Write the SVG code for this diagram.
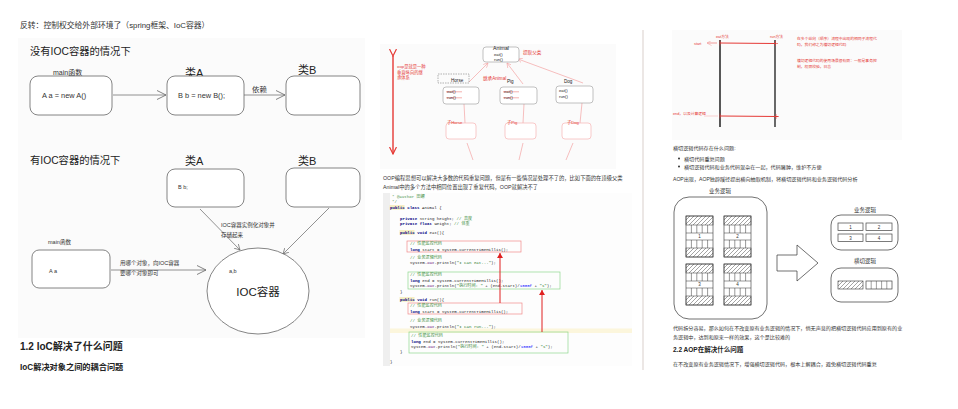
<svg xmlns="http://www.w3.org/2000/svg" width="958" height="409" viewBox="0 0 958 409">
<style>
text{font-family:"Liberation Sans","Noto Sans CJK SC",sans-serif;fill:#333}
.h1{font-size:10.3px;fill:#222}
.lbl{font-size:7.4px}
.cls{font-size:11px;fill:#222}
.sm{font-size:5.5px}
.box{fill:#fff;stroke:#666;stroke-width:0.8}
.ln{stroke:#777;stroke-width:0.8;fill:none}
.red{fill:#e53935}
.pk{stroke:#f4a3a3;stroke-width:0.7;fill:none}
.pkb{fill:#fff;stroke:#f6b5b5;stroke-width:0.7}
.gb{fill:#fff;stroke:#999;stroke-width:0.6}
.t5{font-size:5px;fill:#222}
.code{font-family:"Liberation Mono","Noto Sans CJK SC",monospace;font-size:4.1px;fill:#222}
.kw{fill:#000080;font-weight:bold}
.cm{fill:#3f8f3f}
.st{fill:#2a7a2a}
.p{font-size:5.3px;fill:#333}
.rt{font-size:3.8px;fill:#e53935}
.bx{fill:#fff;stroke:#444;stroke-width:0.7}
</style>
<defs>
<marker id="ah" markerUnits="userSpaceOnUse" markerWidth="10" markerHeight="10" refX="9" refY="5" orient="auto"><path d="M0,0.5 L9,5 L0,9.5" fill="none" stroke="#666" stroke-width="0.8"/></marker>
<marker id="ahs" markerUnits="userSpaceOnUse" markerWidth="6" markerHeight="6" refX="5.5" refY="3" orient="auto"><path d="M0,0 L5.5,3 L0,6" fill="none" stroke="#666" stroke-width="0.7"/></marker>
<marker id="ahp" markerUnits="userSpaceOnUse" markerWidth="5" markerHeight="5" refX="4.5" refY="2.5" orient="auto"><path d="M0,0 L4.5,2.5 L0,5" fill="none" stroke="#f4a3a3" stroke-width="0.6"/></marker>
<marker id="ahr" markerUnits="userSpaceOnUse" markerWidth="8" markerHeight="8" refX="7" refY="4" orient="auto"><path d="M0,0.5 L7,4 L0,7.5" fill="none" stroke="#e53935" stroke-width="1.2"/></marker>
<marker id="ahrs" markerUnits="userSpaceOnUse" markerWidth="6" markerHeight="6" refX="5" refY="3" orient="auto"><path d="M0,0 L5,3 L0,6 Z" fill="#e02020"/></marker>
<pattern id="hatch" patternUnits="userSpaceOnUse" width="4" height="4"><path d="M-1,1 L1,-1 M0,4 L4,0 M3,5 L5,3" stroke="#333" stroke-width="0.45"/></pattern>
<symbol id="blk" overflow="visible">
<rect x="0" y="0" width="27" height="41" fill="#fff" stroke="#333" stroke-width="0.6"/>
<rect x="0" y="0" width="27" height="9" fill="url(#hatch)" stroke="#333" stroke-width="0.5"/>
<rect x="0" y="32" width="27" height="9" fill="url(#hatch)" stroke="#333" stroke-width="0.5"/>
<path d="M0,17 H27 M0,24 H27 M5.4,9 V17 M10.8,9 V17 M16.2,9 V17 M21.6,9 V17 M5.4,24 V32 M10.8,24 V32 M16.2,24 V32 M21.6,24 V32" stroke="#333" stroke-width="0.5"/>
</symbol>
</defs>
<rect width="958" height="409" fill="#fff"/>

<!-- LEFT PAGE -->
<text x="20" y="28" style="font-size:7.8px">反转：控制权交给外部环境了（spring框架、IoC容器）</text>
<rect x="18" y="38" width="347" height="300" fill="#fbfbfb"/>
<text x="30" y="55" class="h1">没有IOC容器的情况下</text>
<text x="30" y="164" class="h1">有IOC容器的情况下</text>

<g id="connectors">
<line x1="113" y1="95" x2="166" y2="95" class="ln" marker-end="url(#ah)"/>
<line x1="244" y1="95" x2="285" y2="95" class="ln" marker-end="url(#ah)"/>
<line x1="200" y1="209" x2="240" y2="250" class="ln" marker-end="url(#ahs)"/>
<line x1="329" y1="208" x2="283" y2="254" class="ln" marker-end="url(#ahs)"/>
<line x1="111" y1="270" x2="206" y2="270" class="ln" marker-end="url(#ah)"/>
<text x="252" y="92" class="lbl">依赖</text>
<text x="221" y="227" class="sm">IOC容器实例化对象并</text>
<text x="221" y="237" class="sm">存储起来</text>
<text x="120" y="265" class="sm">用哪个对象，向IOC容器</text>
<text x="120" y="275" class="sm">要哪个对象即可</text>
</g>

<g id="main1">
<text x="53" y="75" style="font-size:7px">main函数</text>
<rect x="30" y="76" width="82" height="39" rx="8" class="box"/>
<text x="42" y="98" class="lbl">A  a = new A()</text>
</g>
<g id="classA1">
<text x="185" y="77" class="cls">类A</text>
<rect x="167" y="76" width="77" height="39" rx="8" class="box"/>
<text x="178" y="98" class="lbl">B b = new B();</text>
</g>
<g id="classB1">
<text x="298" y="74" class="cls">类B</text>
<rect x="286" y="76" width="74" height="39" rx="8" class="box"/>
</g>
<g id="classA2">
<text x="185" y="165" class="cls">类A</text>
<rect x="167" y="169" width="77" height="38" rx="8" class="box"/>
<text x="178" y="189" class="sm">B  b;</text>
</g>
<g id="classB2">
<text x="298" y="165" class="cls">类B</text>
<rect x="286" y="168" width="74" height="39" rx="8" class="box"/>
</g>
<g id="main2">
<text x="48" y="244" class="sm">main函数</text>
<rect x="32" y="250" width="78" height="38" rx="7" class="box"/>
<text x="49" y="273" class="sm">A a</text>
</g>
<g id="ioc">
<ellipse cx="258" cy="291" rx="51" ry="43" class="box"/>
<text x="229" y="273" class="sm">a,b</text>
<text x="258" y="296" class="cls" text-anchor="middle" style="font-size:11.5px">IOC容器</text>
</g>

<text x="20" y="350" style="font-size:10px;font-weight:bold;fill:#222">1.2 IoC解决了什么问题</text>
<text x="20" y="370" style="font-size:8.2px;font-weight:bold;fill:#222">IoC解决对象之间的耦合问题</text>

<!-- MIDDLE PAGE -->
<rect x="380" y="44" width="236" height="125" fill="#fbfbfb"/>
<line x1="393" y1="56" x2="393" y2="154" stroke="#e53935" stroke-width="1.4" marker-start="url(#ahr)" marker-end="url(#ahr)"/>
<text x="397" y="68" class="rt" style="font-size:4.3px">oop是就是一种</text>
<text x="397" y="73.5" class="rt" style="font-size:4.3px">垂直纵向的继</text>
<text x="397" y="79" class="rt" style="font-size:4.3px">承体系</text>

<g id="animal-links">
<line x1="469" y1="82" x2="488" y2="63" class="pk" marker-end="url(#ahp)"/>
<line x1="523" y1="84" x2="507" y2="63" class="pk" marker-end="url(#ahp)"/>
<line x1="583" y1="83" x2="518" y2="59" class="pk" marker-end="url(#ahp)"/>
<line x1="464" y1="104" x2="465" y2="123" class="pk"/>
<line x1="524" y1="104" x2="523" y2="123" class="pk"/>
<line x1="582" y1="103" x2="580" y2="123" class="pk"/>
<line x1="467" y1="143" x2="473" y2="160" class="pk"/>
<line x1="523" y1="143" x2="519" y2="160" class="pk"/>
<line x1="573" y1="143" x2="566" y2="160" class="pk"/>
<text x="523" y="54" class="rt" style="font-size:4.6px">提取父类</text>
<text x="483" y="80" class="rt" style="font-size:4.6px">继承Animal</text>
</g>
<g id="animal">
<rect x="483" y="47" width="36" height="15" rx="3" class="gb"/>
<text x="501" y="50" class="t5" text-anchor="middle" style="font-size:5.2px">Animal</text>
<text x="494" y="55.5" class="t5" style="font-size:4.2px">eat()</text>
<text x="494" y="60.5" class="t5" style="font-size:4.2px">run()</text>
</g>
<g id="horse">
<rect x="438" y="74" width="31" height="9" fill="none" stroke="#666" stroke-width="0.5" stroke-dasharray="1.5,1"/>
<text x="451" y="82" class="t5" style="font-size:4.6px">Horse</text>
<rect x="443" y="87" width="36" height="17" rx="3" class="gb"/>
<text x="447" y="93" class="t5" style="font-size:4.2px">eat()</text>
<text x="447" y="99" class="t5" style="font-size:4.2px">run()</text>
<path d="M446,91.8 H462 M446,97.8 H462" stroke="#e53935" stroke-width="0.4"/>
</g>
<g id="pig">
<text x="507" y="83" class="t5" style="font-size:4.6px">Pig</text>
<rect x="500" y="87" width="37" height="17" rx="3" class="gb"/>
<text x="504" y="93" class="t5" style="font-size:4.2px">eat()</text>
<text x="504" y="99" class="t5" style="font-size:4.2px">run()</text>
<path d="M503,91.8 H519 M503,97.8 H519" stroke="#e53935" stroke-width="0.4"/>
</g>
<g id="dog">
<text x="564" y="83" class="t5" style="font-size:4.6px">Dog</text>
<rect x="556" y="86" width="37" height="17" rx="3" class="gb"/>
<text x="559" y="92" class="t5" style="font-size:4.2px">eat()</text>
<text x="559" y="98" class="t5" style="font-size:4.2px">run()</text>
</g>
<g id="sub-horse"><rect x="446" y="123" width="30" height="16" rx="3" class="pkb"/><text x="447" y="124" class="rt" style="font-size:4.2px">子Horse</text></g>
<g id="sub-pig"><rect x="505" y="123" width="31" height="16" rx="3" class="pkb"/><text x="507" y="124" class="rt" style="font-size:4.2px">子Pig</text></g>
<g id="sub-dog"><rect x="562" y="123" width="29" height="16" rx="3" class="pkb"/><text x="567" y="124" class="rt" style="font-size:4.2px">子Dog</text></g>

<text x="383" y="180" class="p">OOP编程思想可以解决大多数的代码重复问题，但是有一些情况是处理不了的，比如下面的在顶级父类</text>
<text x="383" y="189" class="p">Animal中的多个方法中相同位置出现了重复代码，OOP就解决不了</text>

<g id="code">
<rect x="383" y="193" width="249" height="173" fill="#fdfdfd"/>
<rect x="383" y="193" width="7" height="173" fill="#efefef"/>
<rect x="390" y="328.5" width="242" height="4.5" fill="#fcf6dc"/>
<rect x="389.5" y="205" width="15" height="4.8" fill="#f6efc4"/>
<rect x="399.5" y="230" width="15" height="4.8" fill="#f6efc4"/>
<rect x="399.5" y="297" width="15" height="4.8" fill="#f6efc4"/>
<text x="392" y="198" class="code cm"> * @author 田螺</text>
<text x="392" y="203" class="code cm"> */</text>
<text x="390" y="209" class="code"><tspan class="kw">public class</tspan> Animal {</text>
<text x="400" y="219.5" class="code"><tspan class="kw">private</tspan> String height; <tspan class="cm">// 高度</tspan></text>
<text x="400" y="224.5" class="code"><tspan class="kw">private float</tspan> weight;  <tspan class="cm">// 体重</tspan></text>
<text x="400" y="234" class="code"><tspan class="kw">public void</tspan> eat(){</text>
<rect x="407" y="241" width="114" height="11" fill="none" stroke="#f08a8a" stroke-width="0.7"/>
<text x="410" y="245" class="code cm">// 性能监控代码</text>
<text x="410" y="250.5" class="code"><tspan class="kw">long</tspan> start = System.currentTimeMillis();</text>
<text x="410" y="258.5" class="code cm">// 业务逻辑代码</text>
<text x="410" y="263.5" class="code">System.<tspan fill="#660e7a" font-style="italic">out</tspan>.println(<tspan class="st">"I can eat..."</tspan>);</text>
<rect x="408" y="272" width="152" height="17" fill="none" stroke="#8fd88f" stroke-width="0.7"/>
<text x="410" y="276" class="code cm">// 性能监控代码</text>
<text x="410" y="281.5" class="code"><tspan class="kw">long</tspan> end = System.currentTimeMillis();</text>
<text x="410" y="287" class="code">System.<tspan fill="#660e7a" font-style="italic">out</tspan>.println(<tspan class="st">"执行时间: "</tspan> + (end-start)/<tspan fill="#0000ff">1000f</tspan> + <tspan class="st">"s"</tspan>);</text>
<text x="400" y="292.5" class="code">}</text>
<text x="400" y="301" class="code"><tspan class="kw">public void</tspan> run(){</text>
<rect x="408" y="303" width="114" height="11" fill="none" stroke="#f08a8a" stroke-width="0.7"/>
<text x="410" y="307" class="code cm">// 性能监控代码</text>
<text x="410" y="312.5" class="code"><tspan class="kw">long</tspan> start = System.currentTimeMillis();</text>
<text x="410" y="322" class="code cm">// 业务逻辑代码</text>
<text x="410" y="327.5" class="code">System.<tspan fill="#660e7a" font-style="italic">out</tspan>.println(<tspan class="st">"I can run..."</tspan>);</text>
<rect x="409" y="332" width="159" height="21" fill="none" stroke="#8fd88f" stroke-width="0.7"/>
<text x="411" y="337" class="code cm">// 性能监控代码</text>
<text x="411" y="342.5" class="code"><tspan class="kw">long</tspan> end = System.currentTimeMillis();</text>
<text x="411" y="348" class="code">System.<tspan fill="#660e7a" font-style="italic">out</tspan>.println(<tspan class="st">"执行时间: "</tspan> + (end-start)/<tspan fill="#0000ff">1000f</tspan> + <tspan class="st">"s"</tspan>);</text>
<text x="400" y="353" class="code">}</text>
<text x="390" y="362.5" class="code">}</text>
<line x1="500" y1="303" x2="500" y2="253" stroke="#e02020" stroke-width="1" marker-end="url(#ahrs)"/>
<line x1="542" y1="332" x2="542" y2="290" stroke="#e02020" stroke-width="1" marker-end="url(#ahrs)"/>
</g>

<!-- RIGHT PAGE -->
<line x1="643" y1="30" x2="643" y2="370" stroke="#d9cfcb" stroke-width="1"/>
<rect x="672" y="30" width="230" height="110" fill="#fbfbfb"/>
<g id="timeline">
<line x1="720" y1="40" x2="720" y2="127" stroke="#444" stroke-width="1.8"/>
<line x1="775" y1="40" x2="775" y2="127" stroke="#444" stroke-width="1.6"/>
<line x1="720" y1="43" x2="775" y2="43.5" stroke="#e53935" stroke-width="1"/>
<line x1="720" y1="116" x2="778" y2="116.5" stroke="#e53935" stroke-width="1"/>
<path d="M720,40.5 V45.5 M773,43.5 H778 M775.5,41 V46 M720,113.5 V118.5 M774,116.5 H779 M776,114 V119" stroke="#e53935" stroke-width="0.6"/>
<line x1="717" y1="43" x2="707" y2="43" stroke="#e53935" stroke-width="0.5" marker-end="url(#ahp)"/>
<line x1="718" y1="116" x2="704" y2="116" stroke="#f4a3a3" stroke-width="0.5"/>
<text x="716" y="37.5" class="rt">eat方法</text>
<text x="770" y="37.5" class="rt">run方法</text>
<text x="694" y="45" class="rt">start</text>
<text x="673" y="114.5" class="rt">end，以及计算逻辑</text>
<text x="797" y="40" class="rt">在多个纵向（顺序）流程中出现的相同子流程代</text>
<text x="797" y="45.5" class="rt">码，我们称之为横切逻辑代码</text>
<text x="797" y="62" class="rt">横切逻辑代码的使用场景很有限：一般是事务控</text>
<text x="797" y="67.5" class="rt">制，权限校验，日志</text>
</g>

<text x="673" y="150" style="font-size:5.1px">横切逻辑代码存在什么问题:</text>
<circle cx="679" cy="158.5" r="1" fill="#333"/>
<text x="684" y="160.5" style="font-size:5.1px">横切代码重复问题</text>
<circle cx="679" cy="166.5" r="1" fill="#333"/>
<text x="684" y="168.5" style="font-size:5.1px">横切逻辑代码和业务代码混杂在一起，代码臃肿，维护不方便</text>
<text x="673" y="180.5" style="font-size:5.1px">AOP出现，AOP独辟蹊径提出横向抽取机制，将横切逻辑代码和业务逻辑代码分析</text>

<g id="biz-mixed">
<text x="720" y="193" style="font-size:5.5px" text-anchor="middle">业务逻辑</text>
<rect x="674" y="197" width="93" height="122" rx="15" fill="#fff" stroke="#333" stroke-width="0.7"/>
<use href="#blk" x="686" y="216"/>
<use href="#blk" x="724" y="216"/>
<use href="#blk" x="686" y="264"/>
<use href="#blk" x="724" y="264"/>
<text x="699.5" y="237.5" style="font-size:4.5px" text-anchor="middle">1</text>
<text x="737.5" y="237.5" style="font-size:4.5px" text-anchor="middle">2</text>
<text x="699.5" y="285.5" style="font-size:4.5px" text-anchor="middle">3</text>
<text x="737.5" y="285.5" style="font-size:4.5px" text-anchor="middle">4</text>
</g>
<g id="split-arrow">
<polygon points="777,255 797,255 797,245 818,263 797,281 797,271 777,271" fill="#fff" stroke="#333" stroke-width="0.7"/>
</g>
<g id="biz-logic">
<text x="865" y="212" style="font-size:5.5px" text-anchor="middle">业务逻辑</text>
<rect x="831" y="215" width="67" height="35" rx="10" fill="#fff" stroke="#333" stroke-width="0.7"/>
<rect x="838" y="223" width="25" height="7.5" class="bx"/>
<rect x="866" y="223" width="26" height="7.5" class="bx"/>
<rect x="838" y="234" width="25" height="7.5" class="bx"/>
<rect x="866" y="234" width="26" height="7.5" class="bx"/>
<text x="850.5" y="228.7" style="font-size:4.5px" text-anchor="middle">1</text>
<text x="879" y="228.7" style="font-size:4.5px" text-anchor="middle">2</text>
<text x="850.5" y="239.7" style="font-size:4.5px" text-anchor="middle">3</text>
<text x="879" y="239.7" style="font-size:4.5px" text-anchor="middle">4</text>
</g>
<g id="cross-logic">
<text x="865" y="263" style="font-size:5.5px" text-anchor="middle">横切逻辑</text>
<rect x="831" y="268" width="67" height="34" rx="10" fill="#fff" stroke="#333" stroke-width="0.7"/>
<rect x="838" y="281" width="25" height="8" fill="url(#hatch)" stroke="#333" stroke-width="0.6"/>
<rect x="866" y="281" width="26" height="8" class="bx"/>
<path d="M871.2,281 V289 M876.4,281 V289 M881.6,281 V289 M886.8,281 V289" stroke="#444" stroke-width="0.5"/>
</g>

<text x="673" y="330" style="font-size:5.1px">代码拆分容易，那么如何在不改变原有业务逻辑的情况下，悄无声息的把横切逻辑代码应用到原有的业</text>
<text x="673" y="339" style="font-size:5.1px">务逻辑中，达到和原来一样的效果，这个是比较难的</text>
<text x="673" y="352" style="font-size:6.5px;font-weight:bold;fill:#222">2.2 AOP在解决什么问题</text>
<text x="673" y="365.5" style="font-size:5.1px">在不改变原有业务逻辑情况下，增强横切逻辑代码，根本上解耦合，避免横切逻辑代码重复</text>
</svg>
